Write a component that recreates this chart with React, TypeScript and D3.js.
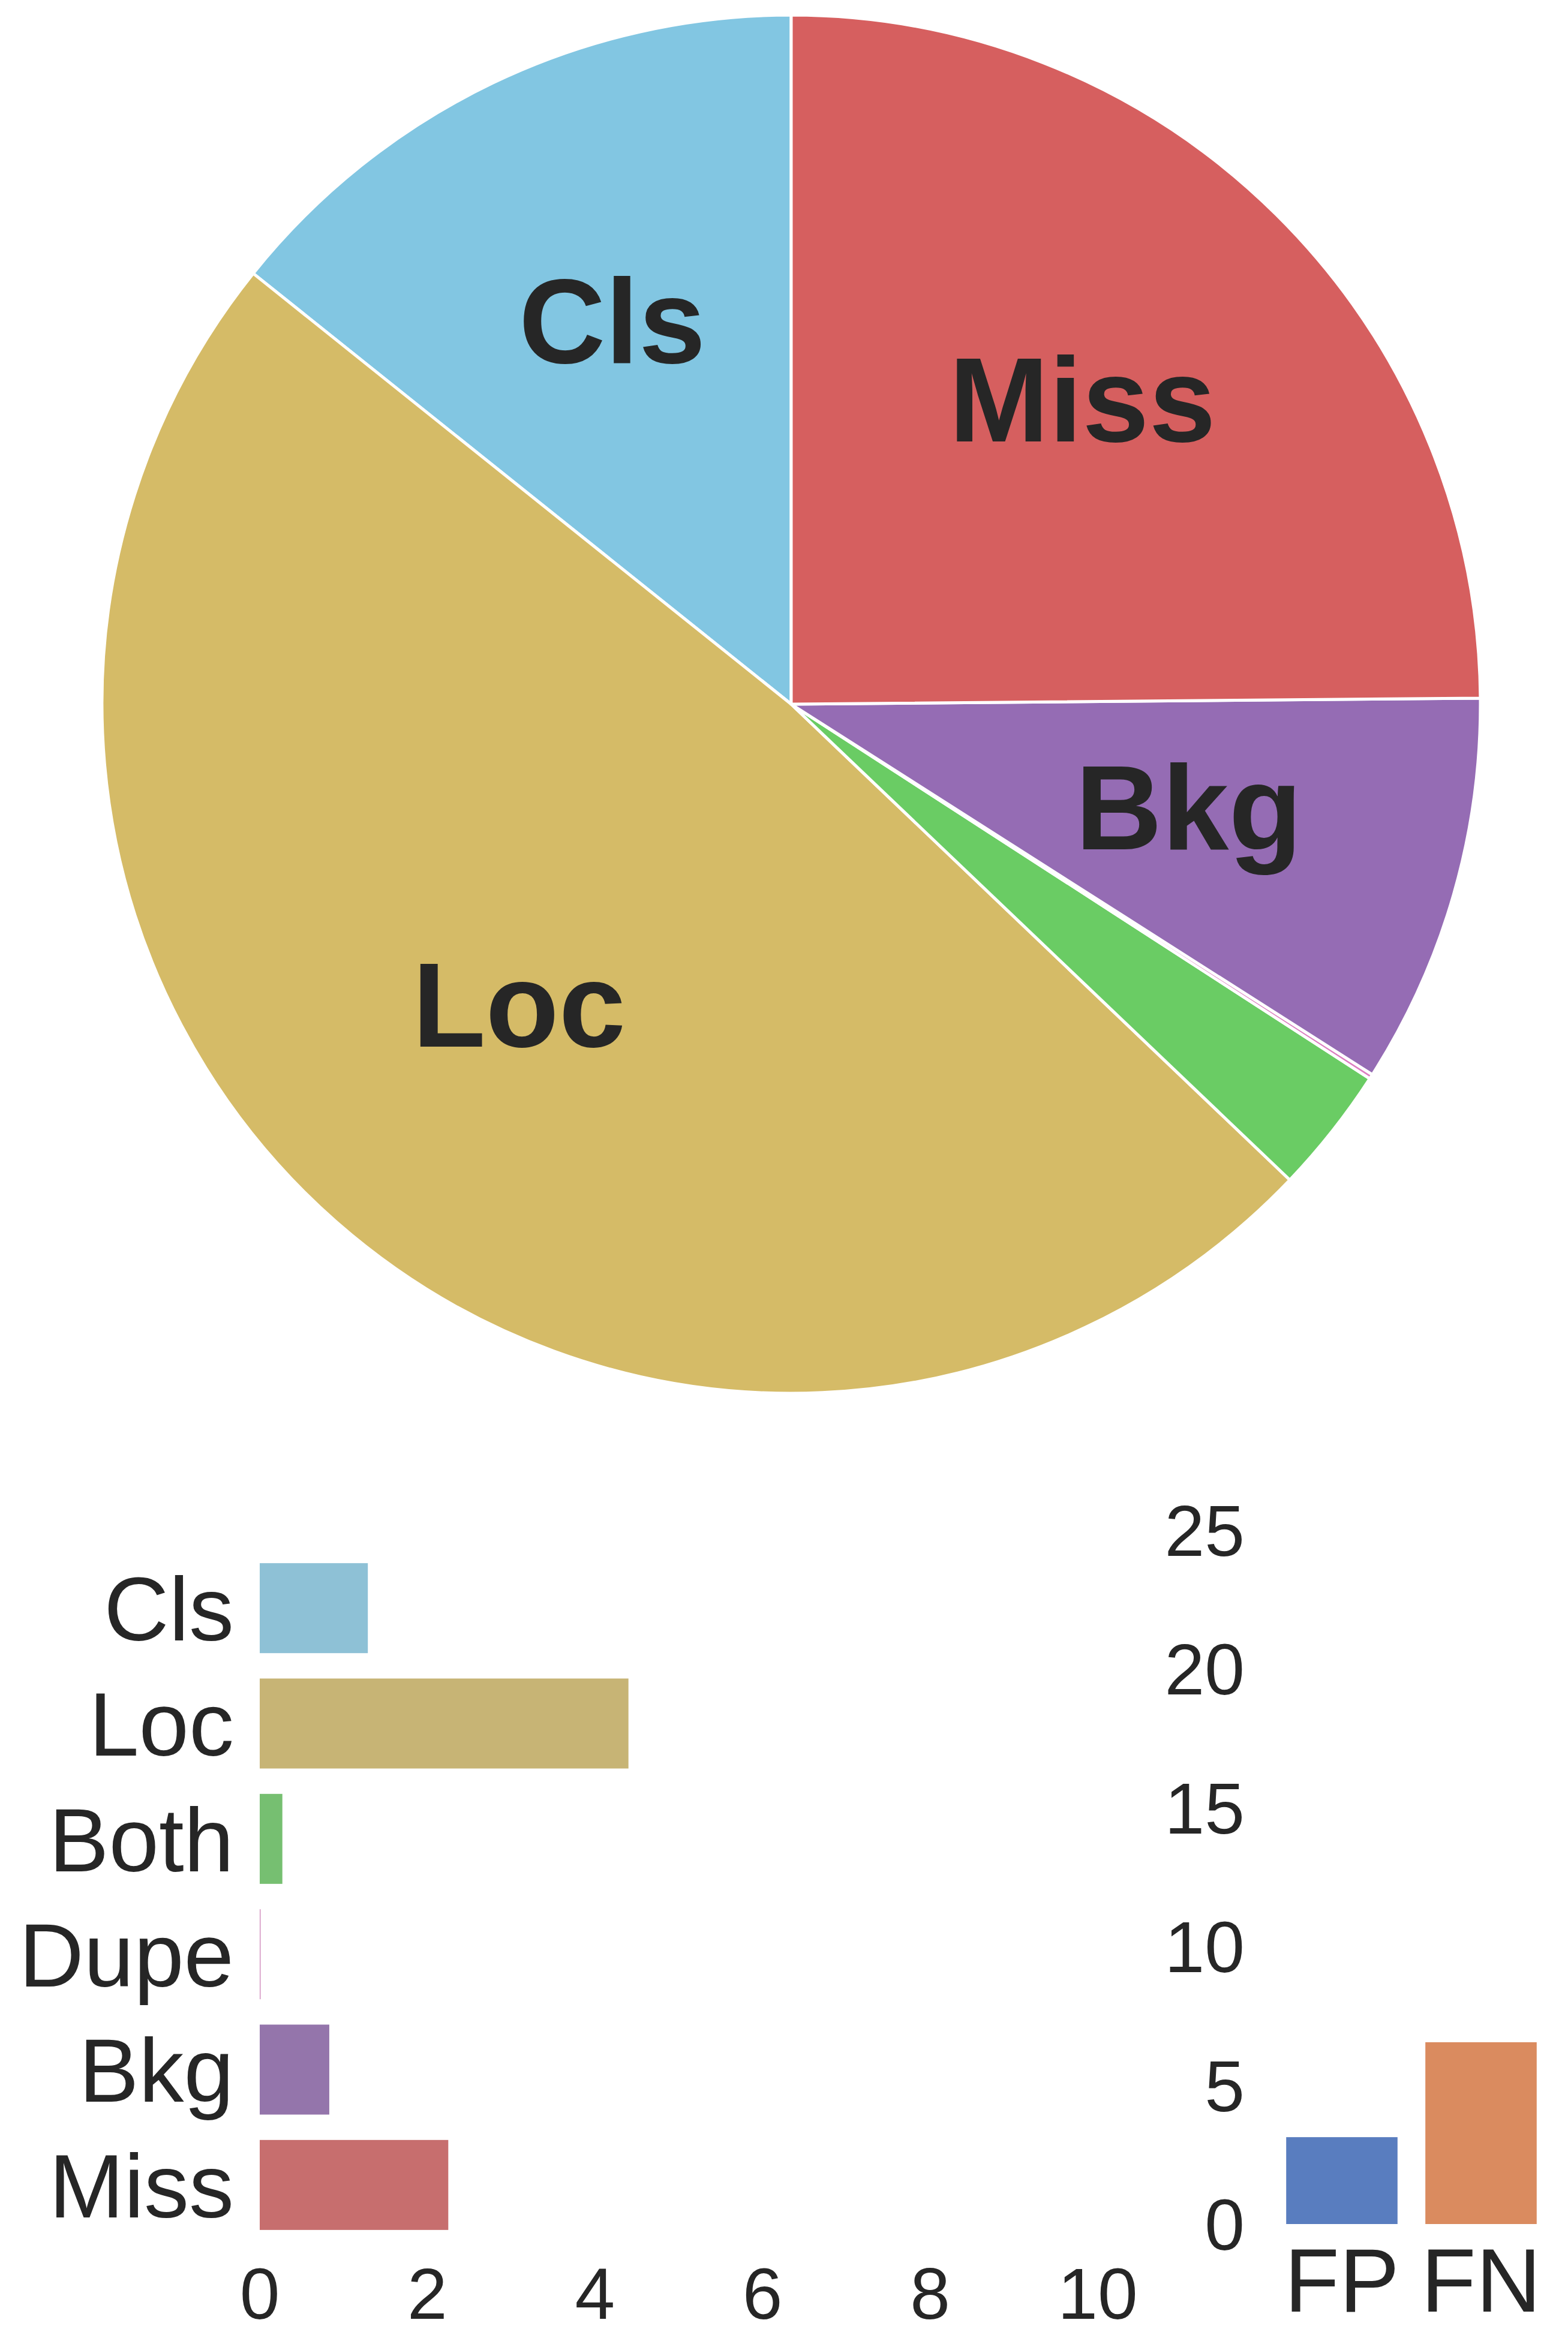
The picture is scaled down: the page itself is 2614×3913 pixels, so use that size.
import React from "react";
import * as d3 from "d3";

const W = 2614;
const H = 3913;

// Main error types (dAP contributions)
const errorTypes = ["Cls", "Loc", "Both", "Dupe", "Bkg", "Miss"];
const errorValues = [1.29, 4.4, 0.27, 0.01, 0.83, 2.25];
const pieColors = ["#82c6e2", "#d5bb67", "#6acc64", "#dc7ec0", "#956cb4", "#d65f5f"];
const barColors = ["#8ec1d6", "#c7b475", "#76bf71", "#d08abb", "#9475ab", "#c76e6e"];
const errorTicks = [0, 2, 4, 6, 8, 10];

// Special error types
const specialTypes = ["FP", "FN"];
const specialValues = [3.13, 6.55];
const specialColors = ["#597dbf", "#da8b5f"];
const specialTicks = [0, 5, 10, 15, 20, 25];

const FONT = "'Liberation Sans', Arial, Helvetica, sans-serif";
const TEXT = "#262626";

export default function App() {
  // ---- Pie ----
  const cx = 1319;
  const cy = 1174;
  const R = 1149;
  const total = d3.sum(errorValues);
  const pie = d3
    .pie<number>()
    .sort(null)
    .startAngle(0)
    .endAngle(-2 * Math.PI)
    .value((d) => d);
  const arcs = pie(errorValues);
  const arcGen = d3.arc<d3.PieArcDatum<number>>().innerRadius(0).outerRadius(R);
  const labelArc = d3
    .arc<d3.PieArcDatum<number>>()
    .innerRadius(R * 0.6)
    .outerRadius(R * 0.6);

  // ---- Horizontal bars ----
  const yBand = d3
    .scaleBand<string>()
    .domain(errorTypes)
    .range([2585, 3739])
    .paddingInner(0.22)
    .paddingOuter(0.11);
  const xLin = d3.scaleLinear().domain([0, 10]).range([433, 1830]);

  // ---- FP / FN bars ----
  const xBand = d3
    .scaleBand<string>()
    .domain(specialTypes)
    .range([2121, 2585])
    .paddingInner(0.2)
    .paddingOuter(0.1);
  const yLin = d3.scaleLinear().domain([0, 25]).range([3708, 2551]);

  const catFont = 150;
  const tickFont = 120;

  return (
    <svg
      width={W}
      height={H}
      viewBox={`0 0 ${W} ${H}`}
      style={{ position: "absolute", left: 0, top: 0, background: "#ffffff" }}
      fontFamily={FONT}
    >
      <rect x={0} y={0} width={W} height={H} fill="#ffffff" />

      {/* Pie */}
      <g transform={`translate(${cx},${cy})`}>
        {arcs.map((a, i) => (
          <path
            key={errorTypes[i]}
            d={arcGen(a) || ""}
            fill={pieColors[i]}
            stroke="#ffffff"
            strokeWidth={5}
            strokeLinejoin="round"
          />
        ))}
        {arcs.map((a, i) => {
          if (errorValues[i] / total < 0.05) return null;
          const [lx, ly] = labelArc.centroid(a);
          return (
            <text
              key={"l" + errorTypes[i]}
              x={lx}
              y={ly + 52}
              textAnchor="middle"
              fontSize={200}
              fontWeight="bold"
              fill={TEXT}
            >
              {errorTypes[i]}
            </text>
          );
        })}
      </g>

      {/* Horizontal bar chart */}
      <g>
        {errorTypes.map((t, i) => (
          <rect
            key={"b" + t}
            x={xLin(0)}
            y={yBand(t)!}
            width={xLin(errorValues[i]) - xLin(0)}
            height={yBand.bandwidth()}
            fill={barColors[i]}
          />
        ))}
        {errorTypes.map((t) => (
          <text
            key={"c" + t}
            x={390}
            y={yBand(t)! + yBand.bandwidth() / 2 + catFont * 0.358}
            textAnchor="end"
            fontSize={catFont}
            fill={TEXT}
          >
            {t}
          </text>
        ))}
        {errorTicks.map((v) => (
          <text
            key={"xt" + v}
            x={xLin(v)}
            y={3866}
            textAnchor="middle"
            fontSize={tickFont}
            fill={TEXT}
          >
            {v}
          </text>
        ))}
      </g>

      {/* FP / FN chart */}
      <g>
        {specialTypes.map((t, i) => (
          <rect
            key={"s" + t}
            x={xBand(t)!}
            y={yLin(specialValues[i])}
            width={xBand.bandwidth()}
            height={yLin(0) - yLin(specialValues[i])}
            fill={specialColors[i]}
          />
        ))}
        {specialTicks.map((v) => (
          <text
            key={"yt" + v}
            x={2075}
            y={yLin(v) + tickFont * 0.358}
            textAnchor="end"
            fontSize={tickFont}
            fill={TEXT}
          >
            {v}
          </text>
        ))}
        {specialTypes.map((t) => (
          <text
            key={"sl" + t}
            x={xBand(t)! + xBand.bandwidth() / 2}
            y={3854}
            textAnchor="middle"
            fontSize={catFont}
            fill={TEXT}
          >
            {t}
          </text>
        ))}
      </g>
    </svg>
  );
}
